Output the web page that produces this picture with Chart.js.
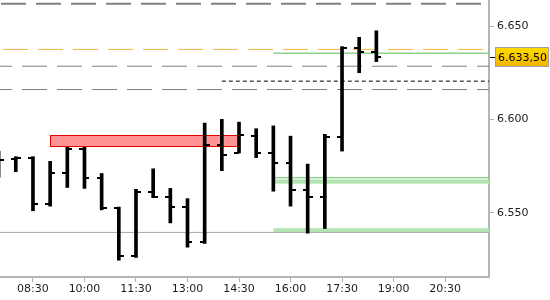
<!DOCTYPE html>
<html>
<head>
<meta charset="utf-8">
<script src="https://cdn.jsdelivr.net/npm/chart.js@4.4.0/dist/chart.umd.min.js"></script>
<style>
  html, body { margin: 0; padding: 0; background: #fff; }
  #wrap { width: 550px; height: 300px; }
</style>
</head>
<body>
<div id="wrap"><canvas id="priceChart"></canvas></div>
<script>
// half-hour OHLC bars
const barTimes = ['07:30', '08:00', '08:30', '09:00', '09:30', '10:00', '10:30', '11:00', '11:30', '12:00', '12:30', '13:00',
  '13:30', '14:00', '14:30', '15:00', '15:30', '16:00', '16:30', '17:00', '17:30', '18:00', '18:30'];
const opens = [6578, 6579, 6579.5, 6554.5, 6571.5, 6584, 6568.5, 6552.5, 6526.5, 6561, 6558.5, 6553,
  6534, 6586, 6582, 6591, 6582, 6576.5, 6562, 6558.5, 6590.5, 6638.5, 6636];
const highs = [6583, 6580, 6580, 6577.5, 6585, 6585, 6571, 6553, 6562.5, 6573.5, 6563, 6557.5,
  6598, 6600, 6598.5, 6595, 6596.5, 6591, 6576, 6592, 6639, 6644, 6647.5];
const lows = [6569, 6572, 6551, 6553.5, 6563.5, 6563, 6551.5, 6524.5, 6526, 6558, 6544.5, 6531.5,
  6533.5, 6572.5, 6582, 6579.5, 6561.5, 6553.5, 6539, 6541.5, 6583, 6625, 6631];
const closes = [6578, 6579.5, 6554.5, 6571.5, 6584, 6568.5, 6552.5, 6526.5, 6561, 6558.5, 6553, 6534,
  6586, 6581, 6591.5, 6582, 6576.5, 6562, 6558.5, 6590.5, 6638.5, 6636, 6633.5];

// horizontal levels (null start = from left edge)
const levelValues = [6662, 6637.5, 6628.5, 6616, 6635.5, 6620.5, 6539.4, 6568.7];
const levelStarts = [null, null, null, null, '15:30', '14:00', null, '15:30'];

// shaded zones
const zoneStarts = ['09:00', '15:30', '15:30'];
const zoneEnds = ['14:30', null, null];
const zoneLows = [6585.3, 6565.5, 6539.6];
const zoneHighs = [6591.4, 6567.8, 6541.7];

const xTickLabels = ['08:30', '10:00', '11:30', '13:00', '14:30', '16:00', '17:30', '19:00', '20:30'];
const yTickValues = [6550, 6600, 6650];

const xMin = 7.54, xMax = 21.78;
const yMin = 6515.5, yMax = 6664;

function toHours(t) {
  const [h, m] = t.split(':').map(Number);
  return h + m / 60;
}
function fmtTime(v) {
  const h = Math.floor(v + 1e-6);
  const m = Math.round((v - h) * 60);
  return String(h).padStart(2, '0') + ':' + String(m).padStart(2, '0');
}
function fmtPrice(v, dec) {
  const [i, d] = v.toFixed(dec).split('.');
  const ip = i.replace(/\B(?=(\d{3})+(?!\d))/g, '.');
  return d ? ip + ',' + d : ip;
}
function makeTick(side) {
  const c = document.createElement('canvas');
  c.width = 10; c.height = 2;
  const g = c.getContext('2d');
  g.fillStyle = '#000';
  g.fillRect(side === 'left' ? 0 : 5, 0, 5, 2);
  return c;
}
function noPadding(s) {
  s.paddingLeft = 0; s.paddingRight = 0; s.paddingTop = 0; s.paddingBottom = 0;
}

const levelStyles = [
  { color: '#808080', width: 2, dash: [25, 10], offset: 34 },
  { color: '#f4b844', width: 1, dash: [25, 10], offset: 32 },
  { color: '#808080', width: 1, dash: [25, 10], offset: 13 },
  { color: '#808080', width: 1, dash: [25, 10], offset: 13 },
  { color: '#55bb55', width: 1, dash: [], offset: 0 },
  { color: '#000000', width: 1, dash: [4, 3], offset: 0 },
  { color: '#a8a8a8', width: 1, dash: [], offset: 0 },
  { color: '#66c066', width: 1, dash: [], offset: 0 }
];
const zoneStyles = [
  { fill: '#ff9494', stroke: '#e60000' },
  { fill: '#b4e6b4', stroke: null },
  { fill: '#b4e6b4', stroke: null }
];

const zonesPlugin = {
  id: 'zones',
  beforeDatasetsDraw(chart) {
    const { ctx, chartArea, scales: { x, y } } = chart;
    ctx.save();
    ctx.beginPath();
    ctx.rect(chartArea.left, chartArea.top, chartArea.right - chartArea.left, chartArea.bottom - chartArea.top);
    ctx.clip();
    zoneStarts.forEach((s, i) => {
      const x0 = x.getPixelForValue(toHours(s));
      const x1 = x.getPixelForValue(zoneEnds[i] ? toHours(zoneEnds[i]) : xMax);
      const y0 = y.getPixelForValue(zoneHighs[i]);
      const y1 = y.getPixelForValue(zoneLows[i]);
      ctx.fillStyle = zoneStyles[i].fill;
      ctx.fillRect(x0, y0, x1 - x0, y1 - y0);
      if (zoneStyles[i].stroke) {
        ctx.strokeStyle = zoneStyles[i].stroke;
        ctx.lineWidth = 1;
        ctx.strokeRect(Math.round(x0) + 0.5, Math.round(y0) + 0.5, Math.round(x1 - x0), Math.round(y1 - y0));
      }
    });
    ctx.restore();
  }
};

const lastPricePlugin = {
  id: 'lastPrice',
  afterDraw(chart) {
    const { ctx, chartArea, scales: { y } } = chart;
    const last = closes[closes.length - 1];
    const py = Math.round(y.getPixelForValue(last));
    ctx.save();
    ctx.strokeStyle = '#000';
    ctx.lineWidth = 1;
    ctx.beginPath();
    ctx.moveTo(chartArea.right + 1, py + 0.5);
    ctx.lineTo(chartArea.right + 6, py + 0.5);
    ctx.stroke();
    const bx = chartArea.right + 6, bw = chart.width - bx - 1, bh = 20, by = py - 10;
    const grad = ctx.createLinearGradient(0, by, 0, by + bh);
    grad.addColorStop(0, '#ffdc00');
    grad.addColorStop(1, '#f2b400');
    ctx.fillStyle = grad;
    ctx.fillRect(bx, by, bw, bh);
    ctx.strokeStyle = '#a0a0a0';
    ctx.strokeRect(bx + 0.5, by + 0.5, bw - 1, bh - 1);
    ctx.fillStyle = '#000';
    ctx.font = '11px "DejaVu Sans"';
    ctx.textBaseline = 'middle';
    ctx.fillText(fmtPrice(last, 2), bx + 3, py + 1);
    ctx.restore();
  }
};

const openTick = makeTick('left');
const closeTick = makeTick('right');

const datasets = [
  {
    type: 'bar',
    data: barTimes.map((t, i) => ({ x: toHours(t), y: [lows[i], highs[i]] })),
    backgroundColor: '#000',
    borderWidth: 0,
    barThickness: 3,
    grouped: false
  },
  {
    type: 'line',
    data: barTimes.map((t, i) => ({ x: toHours(t), y: opens[i] })),
    showLine: false,
    pointStyle: openTick,
    pointRadius: 3
  },
  {
    type: 'line',
    data: barTimes.map((t, i) => ({ x: toHours(t), y: closes[i] })),
    showLine: false,
    pointStyle: closeTick,
    pointRadius: 3
  }
].concat(levelValues.map((v, i) => ({
  type: 'line',
  data: [{ x: levelStarts[i] ? toHours(levelStarts[i]) : xMin, y: v }, { x: xMax, y: v }],
  borderColor: levelStyles[i].color,
  borderWidth: levelStyles[i].width,
  borderDash: levelStyles[i].dash,
  borderDashOffset: levelStyles[i].offset,
  pointRadius: 0,
  fill: false
})));

const tickFont = { family: 'DejaVu Sans', size: 11 };

new Chart(document.getElementById('priceChart'), {
  type: 'bar',
  data: { datasets },
  options: {
    responsive: true,
    maintainAspectRatio: false,
    animation: false,
    layout: { padding: 0, autoPadding: false },
    plugins: {
      legend: { display: false },
      tooltip: { enabled: false }
    },
    scales: {
      x: {
        type: 'linear',
        min: xMin,
        max: xMax,
        offset: false,
        afterBuildTicks: s => { s.ticks = xTickLabels.map(t => ({ value: toHours(t) })); },
        afterFit: s => { s.height = 23; noPadding(s); },
        ticks: {
          callback: v => fmtTime(v),
          font: tickFont,
          color: '#1c1c1c',
          maxRotation: 0,
          autoSkip: false,
          padding: 1
        },
        grid: { display: true, offset: false, drawOnChartArea: false, drawTicks: true, tickLength: 5, color: '#b0b0b0' },
        border: { display: true, color: '#b4b4b4', width: 2 }
      },
      y: {
        type: 'linear',
        position: 'right',
        min: yMin,
        max: yMax,
        afterBuildTicks: s => { s.ticks = yTickValues.map(v => ({ value: v })); },
        afterFit: s => { s.width = 61; noPadding(s); },
        ticks: {
          callback: v => fmtPrice(v, 0),
          font: tickFont,
          color: '#1c1c1c',
          padding: 3
        },
        grid: { display: true, drawOnChartArea: false, drawTicks: true, tickLength: 5, color: '#b0b0b0' },
        border: { display: true, color: '#b4b4b4', width: 2 }
      }
    }
  },
  plugins: [zonesPlugin, lastPricePlugin]
});
</script>
</body>
</html>
